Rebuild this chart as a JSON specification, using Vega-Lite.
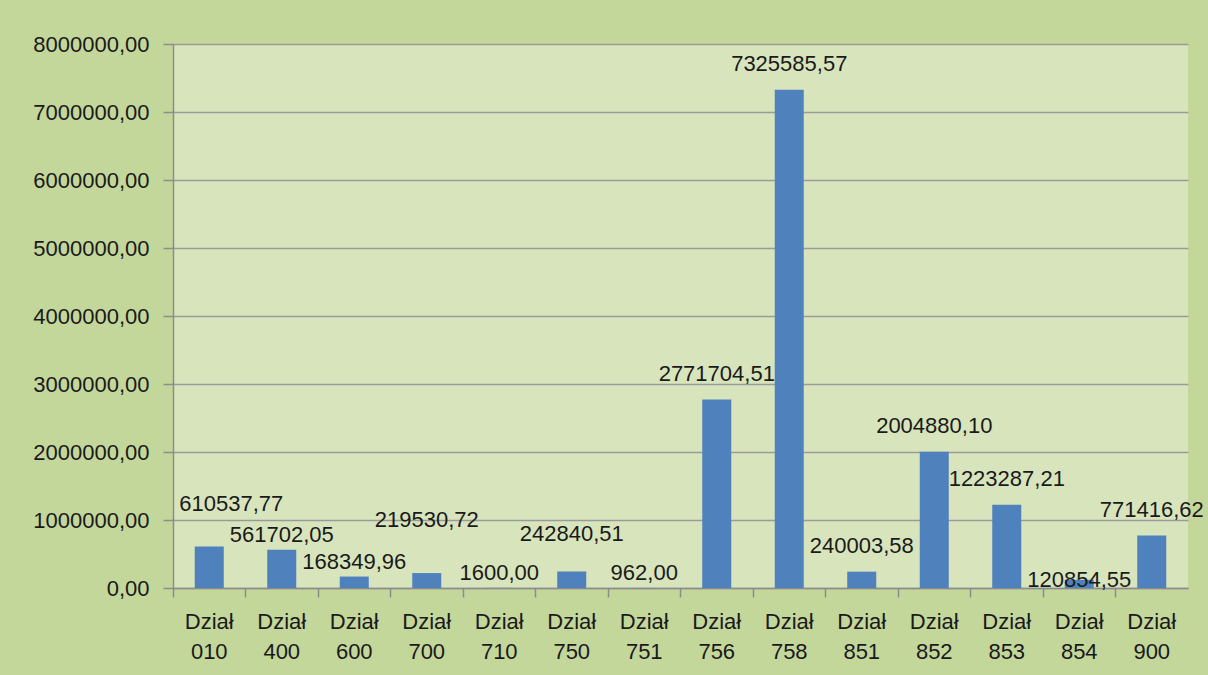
{
  "$schema": "https://vega.github.io/schema/vega-lite/v6.json",
  "autosize": "none",
  "width": 1015,
  "height": 544,
  "padding": {"left": 173, "top": 44, "right": 20, "bottom": 87},
  "background": "#c4d79b",
  "config": {
    "font": "Liberation Sans",
    "view": {"fill": "#d8e4bc", "stroke": null},
    "text": {"fontSize": 22, "color": "#1a1a1a", "baseline": "middle"}
  },
  "data": {
    "values": [
      {"dzial": "010", "kwota": 610537.77, "etykieta": "610537,77"},
      {"dzial": "400", "kwota": 561702.05, "etykieta": "561702,05"},
      {"dzial": "600", "kwota": 168349.96, "etykieta": "168349,96"},
      {"dzial": "700", "kwota": 219530.72, "etykieta": "219530,72"},
      {"dzial": "710", "kwota": 1600.00, "etykieta": "1600,00"},
      {"dzial": "750", "kwota": 242840.51, "etykieta": "242840,51"},
      {"dzial": "751", "kwota": 962.00, "etykieta": "962,00"},
      {"dzial": "756", "kwota": 2771704.51, "etykieta": "2771704,51"},
      {"dzial": "758", "kwota": 7325585.57, "etykieta": "7325585,57"},
      {"dzial": "851", "kwota": 240003.58, "etykieta": "240003,58"},
      {"dzial": "852", "kwota": 2004880.10, "etykieta": "2004880,10"},
      {"dzial": "853", "kwota": 1223287.21, "etykieta": "1223287,21"},
      {"dzial": "854", "kwota": 120854.55, "etykieta": "120854,55"},
      {"dzial": "900", "kwota": 771416.62, "etykieta": "771416,62"}
    ]
  },
  "encoding": {
    "x": {
      "field": "dzial",
      "type": "nominal",
      "sort": null,
      "scale": {"paddingInner": 0, "paddingOuter": 0},
      "axis": {
        "title": null,
        "labelAngle": 0,
        "labelExpr": "['Dział', datum.value]",
        "labelFontSize": 22,
        "labelColor": "#1a1a1a",
        "labelLineHeight": 30,
        "labelPadding": 14,
        "bandPosition": 0,
        "tickSize": 9,
        "tickColor": "#8c8c8c",
        "tickWidth": 1.5,
        "domainColor": "#8c8c8c",
        "domainWidth": 1.5,
        "grid": false
      }
    },
    "y": {
      "field": "kwota",
      "type": "quantitative",
      "scale": {"domain": [0, 8000000], "nice": false},
      "axis": {
        "title": null,
        "values": [0, 1000000, 2000000, 3000000, 4000000, 5000000, 6000000, 7000000, 8000000],
        "labelExpr": "replace(format(datum.value, '.2f'), '.', ',')",
        "labelFontSize": 22,
        "labelColor": "#1a1a1a",
        "labelPadding": 14,
        "tickSize": 10,
        "tickColor": "#8c8c8c",
        "tickWidth": 1.5,
        "domainColor": "#8c8c8c",
        "domainWidth": 1.5,
        "gridColor": "#9a9a9a",
        "gridWidth": 1.5
      }
    }
  },
  "layer": [
    {
      "mark": {"type": "bar", "size": 29, "color": "#4f81bd"}
    },
    {
      "transform": [{"filter": "indexof(['756','758','851','852','853'], datum.dzial) >= 0"}],
      "mark": {"type": "text", "dy": -26},
      "encoding": {"text": {"field": "etykieta"}}
    },
    {
      "transform": [{"filter": "datum.dzial == '900'"}],
      "mark": {"type": "text", "dy": -26, "dx": 0},
      "encoding": {"text": {"field": "etykieta"}}
    },
    {
      "transform": [{"filter": "datum.dzial == '010'"}],
      "mark": {"type": "text", "dy": -42, "dx": 22},
      "encoding": {"text": {"field": "etykieta"}}
    },
    {
      "transform": [{"filter": "indexof(['400','600','710','751'], datum.dzial) >= 0"}],
      "mark": {"type": "text", "dy": -15},
      "encoding": {"text": {"field": "etykieta"}}
    },
    {
      "transform": [{"filter": "datum.dzial == '700'"}],
      "mark": {"type": "text", "dy": -53},
      "encoding": {"text": {"field": "etykieta"}}
    },
    {
      "transform": [{"filter": "datum.dzial == '750'"}],
      "mark": {"type": "text", "dy": -37},
      "encoding": {"text": {"field": "etykieta"}}
    },
    {
      "transform": [{"filter": "datum.dzial == '854'"}],
      "mark": {"type": "text", "dy": 0},
      "encoding": {"text": {"field": "etykieta"}}
    }
  ]
}
